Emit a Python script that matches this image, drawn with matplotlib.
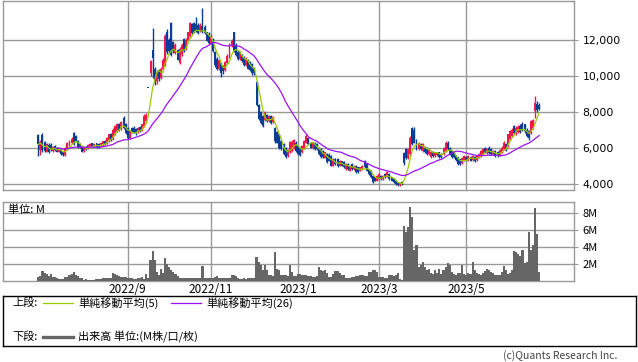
import matplotlib
matplotlib.use("Agg")
import matplotlib.pyplot as plt
from matplotlib.lines import Line2D
from matplotlib.ticker import FuncFormatter
import numpy as np
import pandas as pd

plt.rcParams['font.family'] = ['Noto Sans CJK JP', 'DejaVu Sans']

# daily OHLC (yen), one row of 10 per line
opens = [6700, 5900, 6700, 6350, 5800, 6150, 6150, 5850, 6100, 6000,
         5780, 5900, 5750, 5600, 5950, 6150, 6250, 6850, 6650, 6400,
         6200, 6050, 5850, 6050, 5980, 6100, 6250, 6080, 6250, 6200,
         6100, 6150, 6380, 6250, 6400, 6750, 6500, 6750, 6950, 7300,
         7050, 7650, 7300, 7100, 6550, 7100, 7100, 7050, 6900, 7150,
         7000, 7200, 7500, 9300, 10150, 11400, 10400, 9700, 10300, 9850,
         10400, 10600, 12450, 12000, 12900, 11850, 11250, 11400, 10700, 11200,
         12050, 11500, 11950, 12200, 12850, 12950, 12850, 12800, 12500, 12750,
         12700, 12400, 12300, 11800, 12050, 11300, 10950, 10350, 10700, 10550,
         10300, 10700, 11050, 11650, 12400, 11700, 11300, 10950, 11150, 11050,
         10600, 10850, 10750, 10650, 10450, 9650, 8400, 8000, 7750, 7550,
         7850, 7500, 7750, 7450, 7100, 6900, 6750, 6400, 6200, 6000,
         5550, 5750, 5850, 6000, 6300, 6100, 6000, 5750, 6000, 6300,
         6550, 6300, 6000, 6300, 6200, 6000, 5950, 5850, 5470, 5650,
         5620, 5560, 5010, 5380, 5380, 5010, 5250, 5200, 4830, 5100,
         4740, 5100, 4830, 5010, 4920, 4740, 4830, 5290, 5100, 4830,
         4740, 4460, 4370, 4190, 4280, 4460, 4280, 4560, 4400, 4560,
         4370, 4280, 4190, 4050, 3950, 4100, 5700, 5950, 5450, 5650,
         7100, 7000, 6380, 5930, 6200, 5850, 6020, 6000, 5650, 5500,
         5800, 5550, 5600, 5750, 5650, 5650, 5850, 6300, 6000, 5850,
         5750, 5550, 5480, 5380, 5150, 5300, 5500, 5320, 5500, 5320,
         5500, 5320, 5480, 5560, 5650, 6020, 5700, 6020, 5930, 5650,
         5830, 5800, 5620, 5740, 5930, 6200, 6100, 6480, 6650, 7200,
         6750, 6900, 7200, 7350, 7300, 7020, 6930, 6840, 7100, 8030,
         8450, 8400]
highs = [6800, 6450, 6850, 6400, 6250, 6300, 6250, 6100, 6150, 6050,
         6000, 5950, 5800, 6050, 6350, 6450, 6600, 6900, 6700, 6450,
         6250, 6100, 6050, 6100, 6200, 6300, 6300, 6250, 6300, 6250,
         6350, 6400, 6450, 6600, 6800, 6850, 7100, 7250, 7400, 7400,
         7500, 7750, 7400, 7150, 7000, 7150, 7200, 7100, 7150, 7200,
         7350, 7900, 7950, 9300, 10900, 12650, 10500, 10300, 10400, 10500,
         11000, 12300, 12600, 12100, 13000, 11950, 11800, 11500, 11600, 11800,
         12100, 12100, 12450, 13000, 12950, 13000, 13250, 12900, 12900, 13750,
         12800, 12450, 12400, 12300, 12100, 11350, 11050, 10900, 10750, 10600,
         10800, 11200, 11800, 12050, 12450, 11800, 11400, 11350, 11200, 11100,
         11050, 10950, 10800, 10700, 10500, 9700, 8450, 8050, 7800, 8050,
         7900, 7800, 7800, 7750, 7150, 6950, 6800, 6450, 6250, 6050,
         5950, 6400, 6450, 6500, 6400, 6150, 6050, 6150, 6450, 6750,
         6600, 6350, 6350, 6350, 6250, 6050, 6000, 5900, 5800, 5700,
         5700, 5600, 5420, 5450, 5470, 5330, 5300, 5250, 5150, 5150,
         5050, 5150, 5050, 5050, 4950, 4950, 5050, 5320, 5150, 4850,
         4800, 4500, 4400, 4500, 4600, 4500, 4500, 4600, 4700, 4600,
         4400, 4320, 4200, 4100, 4100, 4150, 5750, 6000, 6000, 6650,
         7150, 7150, 6500, 6350, 6250, 6250, 6100, 6050, 6000, 5850,
         5850, 5800, 5800, 5800, 5700, 6050, 6400, 6380, 6050, 5900,
         5800, 5600, 5500, 5400, 5500, 5600, 5550, 5600, 5550, 5600,
         5550, 5600, 5700, 5900, 6000, 6050, 6000, 6100, 6000, 5900,
         5900, 5850, 5950, 6100, 6380, 6300, 6800, 7000, 7100, 7250,
         7200, 7250, 7300, 7450, 7350, 7100, 7000, 7550, 7620, 8900,
         8600, 8500]
lows = [5560, 5600, 5750, 5750, 5750, 5700, 5850, 5800, 5850, 5750,
        5750, 5600, 5550, 5550, 5900, 6100, 6200, 6150, 6350, 6000,
        6000, 5780, 5800, 5900, 5950, 6050, 6050, 6050, 6000, 6000,
        6050, 6100, 6150, 6200, 6350, 6400, 6450, 6700, 6900, 6950,
        7000, 7050, 6800, 6500, 6500, 6850, 6850, 6700, 6850, 6900,
        6950, 7150, 7400, 9300, 10000, 9850, 9500, 9550, 9700, 9800,
        10300, 10550, 11200, 11250, 11100, 11250, 11200, 10850, 10650, 11100,
        11300, 11400, 11900, 12100, 12300, 12350, 12450, 12300, 12450, 12350,
        12300, 11900, 11750, 11750, 11300, 10500, 10300, 10300, 9950, 10100,
        10250, 10650, 11000, 11600, 11300, 11100, 10900, 10900, 10750, 10550,
        10550, 10350, 10250, 10050, 10050, 8350, 7550, 7350, 7150, 7500,
        7450, 7450, 7350, 7400, 6300, 6250, 5950, 5900, 5600, 5450,
        5500, 5700, 5800, 5950, 5800, 5600, 5550, 5700, 5950, 6250,
        6150, 5980, 5950, 5900, 5880, 5600, 5450, 5430, 5430, 5150,
        5250, 4980, 4980, 5050, 4920, 4980, 4980, 4900, 4800, 4800,
        4700, 4800, 4800, 4620, 4600, 4700, 4800, 4900, 4700, 4500,
        4350, 4050, 4150, 4150, 4250, 4250, 4250, 4350, 4380, 4250,
        4150, 4050, 3950, 3880, 3900, 3930, 5050, 5400, 5400, 5600,
        6150, 6250, 5880, 5880, 5880, 5800, 5700, 5600, 5600, 5450,
        5500, 5500, 5550, 5450, 5450, 5600, 5800, 5900, 5600, 5450,
        5450, 5300, 5080, 5050, 5100, 5250, 5250, 5300, 5250, 5300,
        5200, 5300, 5450, 5520, 5600, 5700, 5650, 5650, 5600, 5600,
        5520, 5500, 5580, 5700, 5900, 5820, 6050, 6450, 6600, 6800,
        6700, 6850, 6850, 6950, 6850, 6600, 6450, 6800, 7050, 7670,
        8000, 8100]
closes = [6200, 6350, 5900, 5850, 6200, 5750, 5950, 6050, 5900, 5800,
          5950, 5650, 5600, 6000, 6300, 6400, 6500, 6200, 6400, 6050,
          6050, 5800, 6000, 5950, 6150, 6200, 6100, 6200, 6050, 6050,
          6300, 6380, 6200, 6550, 6750, 6450, 7000, 7200, 7350, 7000,
          7450, 7100, 6850, 6550, 6950, 6900, 6900, 6850, 7100, 6950,
          7300, 7750, 7800, 9300, 10800, 11000, 9700, 10100, 9800, 10400,
          10900, 12200, 11300, 11350, 11150, 11350, 11700, 10900, 11500, 11700,
          11350, 12000, 12400, 12950, 12350, 12400, 12500, 12350, 12800, 12400,
          12350, 11950, 11800, 12200, 11350, 10600, 10400, 10850, 10150, 10250,
          10750, 11100, 11700, 11950, 11350, 11150, 10950, 11300, 10800, 10600,
          10950, 10400, 10300, 10150, 10150, 8400, 7600, 7400, 7200, 8000,
          7500, 7750, 7400, 7700, 6400, 6300, 6000, 5950, 5650, 5500,
          5900, 6350, 6350, 6450, 5850, 5650, 5600, 6100, 6380, 6650,
          6200, 6020, 6300, 5950, 5930, 5650, 5480, 5480, 5750, 5200,
          5290, 5010, 5380, 5100, 5010, 5290, 5010, 4920, 5100, 4830,
          5010, 4830, 5010, 4650, 4650, 4920, 5010, 4920, 4740, 4560,
          4370, 4100, 4190, 4460, 4560, 4280, 4460, 4370, 4650, 4280,
          4190, 4100, 4000, 3920, 4050, 3980, 5150, 5450, 5950, 6570,
          6200, 6300, 5930, 6300, 5930, 6200, 5750, 5650, 5930, 5800,
          5550, 5750, 5750, 5480, 5500, 6000, 6300, 5950, 5650, 5500,
          5480, 5320, 5120, 5100, 5450, 5550, 5300, 5550, 5300, 5540,
          5250, 5560, 5650, 5830, 5930, 5740, 5930, 5700, 5650, 5830,
          5560, 5560, 5870, 6020, 6290, 5870, 6750, 6930, 7020, 6840,
          7120, 7150, 6900, 7020, 6930, 6660, 6530, 7480, 7570, 8490,
          8100, 8150]
# volume (million shares)
volumes = [0.45, 0.5, 1.1, 0.85, 0.75, 0.5, 0.75, 0.45, 0.4, 0.25,
           0.2, 0.2, 0.2, 0.4, 0.45, 0.7, 0.8, 1.0, 0.6, 0.55,
           0.3, 0.25, 0.1, 0.12, 0.1, 0.08, 0.1, 0.1, 0.12, 0.15,
           0.2, 0.3, 0.25, 0.3, 0.35, 0.3, 0.85, 0.8, 0.6, 0.5,
           0.45, 0.45, 0.4, 0.3, 0.25, 0.25, 0.2, 0.15, 0.3, 0.3,
           0.45, 0.2, 0.75, 0.25, 2.5, 3.5, 2.5, 1.0, 0.65, 1.35,
           0.9, 2.7, 2.0, 1.6, 1.2, 1.05, 0.75, 0.5, 0.35, 0.35,
           0.3, 0.3, 0.25, 0.3, 0.25, 0.3, 0.35, 0.25, 0.3, 1.7,
           0.3, 0.25, 0.3, 0.35, 0.3, 0.4, 0.5, 0.35, 0.3, 0.25,
           0.3, 0.25, 0.25, 0.6, 0.6, 0.55, 0.25, 0.2, 0.2, 0.25,
           0.2, 0.3, 0.25, 0.3, 0.3, 2.8, 2.2, 1.8, 1.3, 1.8,
           1.2, 0.65, 0.6, 0.5, 3.4, 1.4, 1.2, 0.65, 0.6, 0.65,
           0.55, 1.8, 1.0, 0.5, 0.5, 0.75, 0.75, 0.6, 0.6, 0.6,
           0.5, 0.5, 0.45, 0.45, 0.5, 1.6, 1.2, 1.15, 1.2, 0.85,
           0.45, 0.45, 0.75, 1.15, 1.15, 0.85, 0.65, 0.65, 0.35, 0.35,
           0.35, 0.45, 0.45, 0.5, 0.5, 0.6, 0.6, 0.5, 0.5, 1.0,
           1.0, 1.2, 1.3, 1.0, 0.45, 0.45, 0.45, 0.35, 0.35, 0.65,
           0.6, 0.5, 0.6, 0.85, 0.15, 0.1, 6.5, 5.8, 6.4, 8.8,
           7.6, 3.6, 4.2, 1.6, 1.8, 2.2, 1.6, 1.2, 1.4, 0.85,
           0.8, 1.2, 0.9, 1.4, 0.75, 1.2, 1.6, 2.1, 1.8, 1.0,
           0.75, 0.7, 0.85, 0.9, 1.8, 0.75, 0.7, 0.9, 0.75, 2.2,
           1.2, 0.9, 0.75, 0.7, 0.85, 1.15, 1.4, 1.2, 1.0, 0.85,
           0.65, 0.6, 0.65, 1.0, 1.7, 1.2, 0.8, 0.9, 1.2, 3.5,
           3.4, 3.2, 2.9, 3.6, 2.1, 2.2, 5.8, 3.7, 4.2, 8.6,
           5.6, 1.0]

month_labels = ['2022/9', '2022/11', '2023/1', '2023/3', '2023/5']
month_pos = [43, 83, 125, 164, 206]   # index of first trading day of the month

RED = '#f0174b'
BLUE = '#0b3d98'
GREEN = '#99cc00'
PURPLE = '#9a12f0'
GRID = '#999999'

o = np.array(opens)
h = np.array(highs)
l = np.array(lows)
c = np.array(closes)
x = np.arange(len(c))
ma5 = pd.Series(c).rolling(5, min_periods=1).mean()
ma26 = pd.Series(c).rolling(26, min_periods=1).mean()

W, H = 638, 362
fig = plt.figure(figsize=(W / 100, H / 100), dpi=100)

def box(x0, y0, x1, y1):
    return [x0 / W, 1 - y1 / H, (x1 - x0) / W, (y1 - y0) / H]

# price panel
ax = fig.add_axes(box(3, 0.5, 574, 190))
up = c > o
cols = np.where(up, RED, BLUE)
ax.vlines(x, l, h, colors=cols, linewidth=1.0, zorder=3)
body_lo = np.minimum(o, c)
body_h = np.maximum(np.abs(c - o), 50)
ax.bar(x, body_h, bottom=body_lo, width=0.95, color=cols, linewidth=0,
       antialiased=False, zorder=3)
ax.plot(x, ma5, color=GREEN, lw=0.9, zorder=4)
ax.plot(x[9:], ma26[9:], color=PURPLE, lw=0.9, zorder=4)

ax.set_xlim(-17, 257.8)
ax.set_ylim(3670, 14170)
ax.set_yticks([4000, 6000, 8000, 10000, 12000])
ax.yaxis.set_major_formatter(FuncFormatter(lambda v, p: f'{int(v):,}'))
ax.yaxis.tick_right()
ax.set_xticks(month_pos)
ax.set_xticklabels([])
ax.tick_params(axis='x', length=0)
ax.tick_params(axis='y', direction='out', length=3, color=GRID, pad=3, labelsize=7.8)
for t in ax.get_yticklabels():
    t.set_fontfamily('DejaVu Sans')
ax.grid(True, color=GRID, lw=1)
ax.set_axisbelow(True)
for s in ax.spines.values():
    s.set_color(GRID)
    s.set_linewidth(1)

# volume panel
av = fig.add_axes(box(3, 202, 574, 280.5))
av.bar(x, volumes, width=1.0, color='#666666', linewidth=0, zorder=3)
av.set_xlim(-17, 257.8)
av.set_ylim(0, 9.37)
av.set_yticks([2, 4, 6, 8])
av.set_yticklabels(['2M', '4M', '6M', '8M'])
av.yaxis.tick_right()
av.set_xticks(month_pos)
av.set_xticklabels(month_labels)
av.tick_params(axis='x', length=0, pad=2, labelsize=8.5)
av.tick_params(axis='y', direction='out', length=3, color=GRID, pad=3, labelsize=8)
av.grid(True, color=GRID, lw=1)
av.set_axisbelow(True)
for s in av.spines.values():
    s.set_color(GRID)
    s.set_linewidth(1)
av.text(5 / 571, 0.97, '単位: M', transform=av.transAxes, fontsize=8,
        va='top', ha='left')

# legend box
lg = fig.add_axes(box(3, 296, 636, 346))
lg.set_xticks([])
lg.set_yticks([])
for s in lg.spines.values():
    s.set_color('black')
    s.set_linewidth(1)

def fx(px):
    return px / W

def fy(py):
    return 1 - py / H

fig.text(fx(12), fy(303), '上段:', fontsize=8, va='center')
fig.add_artist(Line2D([fx(43), fx(73)], [fy(303), fy(303)], color=GREEN, lw=0.9))
fig.text(fx(78), fy(303), '単純移動平均(5)', fontsize=8, va='center')
fig.add_artist(Line2D([fx(171), fx(201)], [fy(303), fy(303)], color=PURPLE, lw=0.9))
fig.text(fx(206), fy(303), '単純移動平均(26)', fontsize=8, va='center')
fig.text(fx(12), fy(337), '下段:', fontsize=8, va='center')
fig.add_artist(Line2D([fx(43), fx(73)], [fy(337), fy(337)], color='#666666', lw=2.4))
fig.text(fx(78), fy(337), '出来高 単位:(M株/口/枚)', fontsize=8, va='center')

fig.text(fx(617), fy(356), '(c)Quants Research Inc.', fontsize=7.5, va='center',
         ha='right', color='#444444')

fig.savefig('out.png', dpi=100)
